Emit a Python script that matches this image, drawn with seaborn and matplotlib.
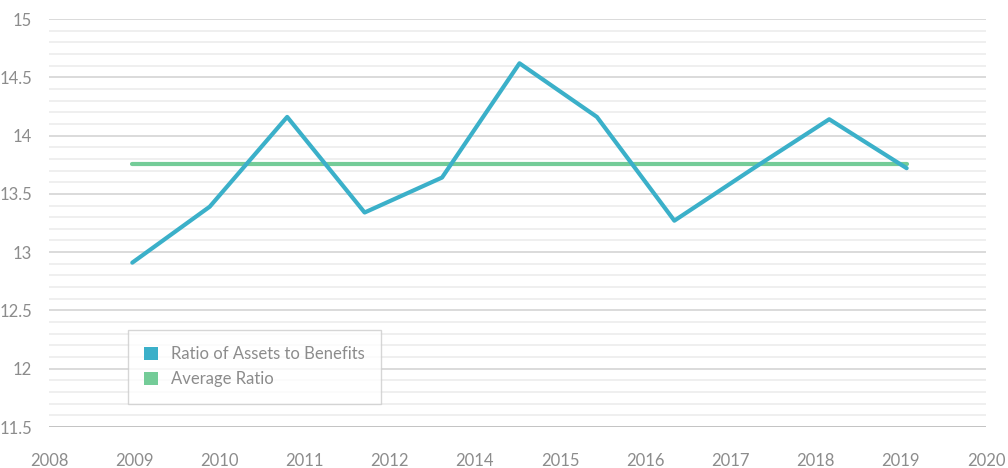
import numpy as np
import pandas as pd
import seaborn as sns
import matplotlib.pyplot as plt
from matplotlib.patches import Patch
from matplotlib.ticker import MultipleLocator

# data
years = [2009, 2010, 2011, 2012, 2013, 2014, 2015, 2016, 2017, 2018, 2019]
ratio = [12.91, 13.39, 14.16, 13.34, 13.64, 14.62, 14.16, 13.27, 13.71, 14.14, 13.72]
average_ratio = 13.76
tick_labels = ["2008", "2009", "2010", "2011", "2012", "2014",
               "2015", "2016", "2017", "2018", "2019", "2020"]
y_labels = ["11.5", "12", "12.5", "13", "13.5", "14", "14.5", "15"]

teal = "#3bb0c9"
green = "#74cc98"
text_grey = "#8c8c8c"

sns.set_style("white")
plt.rcParams["font.family"] = ["Lato", "DejaVu Sans"]

df = pd.DataFrame({"year": years, "ratio": ratio})
df["average"] = average_ratio

fig = plt.figure(figsize=(10.08, 4.68), dpi=100)
ax = fig.add_axes([0.0486, 0.0876, 0.9296, 0.8718])

sns.lineplot(data=df, x="year", y="average", color=green, linewidth=3,
             solid_capstyle="round", ax=ax, zorder=3)
sns.lineplot(data=df, x="year", y="ratio", color=teal, linewidth=3,
             ax=ax, zorder=4)

# axis range: the date axis in the original spans a bit over 12 years
x0, x1 = 2007.924, 2020.025
ax.set_xlim(x0, x1)
ax.set_ylim(11.5, 15)
ax.set_xticks(np.linspace(x0, x1, len(tick_labels)))
ax.set_xticklabels(tick_labels)
ax.set_yticks(np.arange(11.5, 15.01, 0.5))
ax.set_yticklabels(y_labels)
ax.yaxis.set_minor_locator(MultipleLocator(0.1))

ax.grid(which="minor", axis="y", color="#ececec", linewidth=1.2)
ax.grid(which="major", axis="y", color="#dadada", linewidth=1.4)
ax.axhline(11.5, color="#c4c4c4", linewidth=1.4, zorder=2)
ax.set_axisbelow(True)

for s in ax.spines.values():
    s.set_visible(False)
ax.tick_params(axis="both", which="both", length=0, labelsize=12,
               labelcolor=text_grey)
ax.tick_params(axis="x", pad=19)
ax.tick_params(axis="y", pad=12)
ax.set_xlabel("")
ax.set_ylabel("")

handles = [Patch(facecolor=teal, edgecolor="none"),
           Patch(facecolor=green, edgecolor="none")]
leg = ax.legend(handles, ["Ratio of Assets to Benefits", "Average Ratio"],
                loc="lower left", bbox_to_anchor=(0.084, 0.056),
                frameon=True, fancybox=False, fontsize=12,
                handlelength=0.8, handleheight=0.8, handletextpad=0.8,
                borderpad=1.0, labelspacing=0.55, borderaxespad=0)
leg.get_frame().set_edgecolor("#cccccc")
leg.get_frame().set_linewidth(1)
for t in leg.get_texts():
    t.set_color(text_grey)

fig.savefig("out.png", dpi=100)
